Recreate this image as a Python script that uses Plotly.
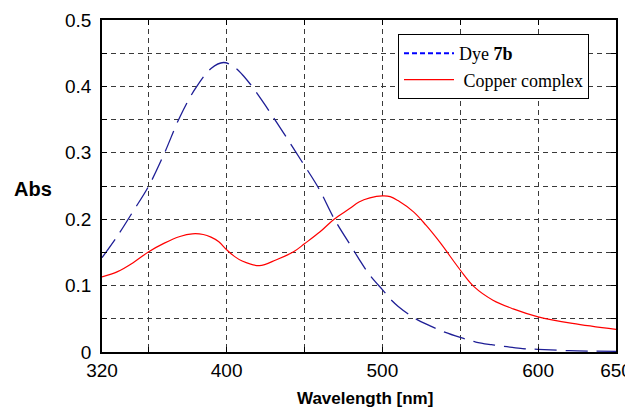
import plotly.graph_objects as go

# Dye 7b absorbance
dye_wl = [320, 330, 340, 350, 360, 370, 380, 390, 398, 405, 410, 415, 420, 425, 436, 448, 459, 469, 480,
          485, 490, 495, 500, 505, 510, 520, 530, 540, 550, 560, 570, 580, 590, 600, 620, 650]
dye_abs = [0.142, 0.175, 0.212, 0.250, 0.299, 0.354, 0.397, 0.427, 0.436, 0.429, 0.418, 0.404, 0.388,
           0.371, 0.332, 0.288, 0.247, 0.201, 0.159, 0.140, 0.122, 0.107, 0.094, 0.080, 0.069, 0.052,
           0.040, 0.030, 0.022, 0.015, 0.011, 0.008, 0.005, 0.004, 0.002, 0.001]

# Copper complex absorbance
cu_wl = [320, 330, 340, 350, 360, 370, 378, 385, 390, 395, 400, 405, 410, 421, 432, 443, 450, 460,
         469, 479, 485, 492, 500, 505, 510, 520, 528, 537, 550, 559, 571, 584, 600, 622, 650]
cu_abs = [0.113, 0.121, 0.1345, 0.151, 0.164, 0.174, 0.178, 0.177, 0.173, 0.166, 0.154, 0.144, 0.137,
          0.130, 0.139, 0.151, 0.163, 0.181, 0.200, 0.216, 0.226, 0.232, 0.235, 0.234, 0.228, 0.211,
          0.191, 0.165, 0.1235, 0.098, 0.078, 0.065, 0.053, 0.043, 0.034]

x_ticks = [320, 400, 500, 600, 650]
x_minor = [350, 450, 550]
y_ticks = [0, 0.1, 0.2, 0.3, 0.4, 0.5]
y_labels = ["0", "0.1", "0.2", "0.3", "0.4", "0.5"]

fig = go.Figure()
fig.add_trace(go.Scatter(x=dye_wl, y=dye_abs, mode="lines", showlegend=False,
                         line=dict(color="#1e1e96", width=1.3, dash="22px,9px", shape="spline")))
fig.add_trace(go.Scatter(x=cu_wl, y=cu_abs, mode="lines", showlegend=False,
                         line=dict(color="#ff0000", width=1.2, shape="spline")))
# legend entries
fig.add_trace(go.Scatter(x=[None], y=[None], mode="lines", name="Dye <b>7b</b>",
                         line=dict(color="#0000ff", width=2, dash="5px,3px")))
fig.add_trace(go.Scatter(x=[None], y=[None], mode="lines", name=" Copper complex",
                         line=dict(color="#ff0000", width=1.2)))

grid_col = "#3a3a3a"
tick_font = dict(family="Liberation Sans, Arial", size=19, color="black")
fig.update_xaxes(range=[320, 650], tickvals=x_ticks, ticktext=[str(v) for v in x_ticks],
                 showgrid=True, gridcolor=grid_col, griddash="5px,4px", gridwidth=1,
                 minor=dict(tickvals=x_minor, showgrid=True, gridcolor=grid_col, griddash="5px,4px",
                            gridwidth=1, ticks="inside", ticklen=5, tickcolor="black"),
                 ticks="inside", ticklen=5, tickcolor="black", automargin=False,
                 ticklabeloverflow="allow",
                 showline=True, linecolor="black", linewidth=1.5, mirror="allticks",
                 zeroline=False, tickfont=tick_font)
fig.update_yaxes(range=[0, 0.5], tickvals=y_ticks, ticktext=y_labels,
                 showgrid=True, gridcolor=grid_col, griddash="5px,4px", gridwidth=1,
                 minor=dict(dtick=0.05, tick0=0, showgrid=True, gridcolor=grid_col, griddash="5px,4px",
                            gridwidth=1, ticks="inside", ticklen=5, tickcolor="black"),
                 ticks="inside", ticklen=5, tickcolor="black", ticklabelstandoff=5, automargin=False,
                 showline=True, linecolor="black", linewidth=1.5, mirror="allticks",
                 zeroline=False, tickfont=tick_font)

# page body has an 8px margin: plot area sits at x 102..616, y 20..352 of the window
W, H = 625, 403
L, R, T = 94, 17, 12
B = H - T - 332
pw = W - L - R
ph = H - T - B

fig.add_annotation(text="<b>Abs</b>", xref="paper", yref="paper",
                   x=(33 - 8 - L) / pw, y=1 - (189 - 8 - T) / ph,
                   xanchor="center", yanchor="middle", showarrow=False,
                   font=dict(family="Liberation Sans, Arial", size=20, color="black"))
fig.add_annotation(text="<b>Wavelength [nm]</b>", xref="paper", yref="paper",
                   x=(365 - 8 - L) / pw, y=1 - (398 - 8 - T) / ph,
                   xanchor="center", yanchor="middle", showarrow=False,
                   font=dict(family="Liberation Sans, Arial", size=17, color="black"))

fig.update_layout(
    width=W, height=H,
    margin=dict(l=L, r=R, t=T, b=B, autoexpand=False),
    plot_bgcolor="white", paper_bgcolor="white",
    legend=dict(x=(398 - 8 - L) / pw, y=1 - (34 - 8 - T) / ph, xanchor="left", yanchor="top",
                bgcolor="white", bordercolor="black", borderwidth=1,
                font=dict(family="Liberation Serif, Times New Roman", size=18, color="black"),
                itemwidth=50, tracegroupgap=0),
)

fig.write_html("out.html")
